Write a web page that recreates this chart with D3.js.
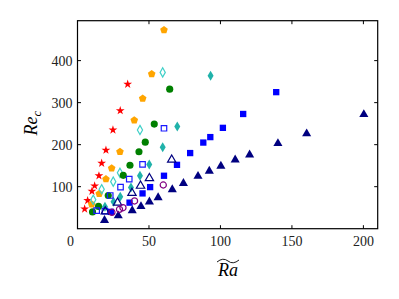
<!DOCTYPE html>
<html>
<head>
<meta charset="utf-8">
<script src="https://cdn.jsdelivr.net/npm/d3@7"></script>
<style>
  body { margin: 0; background: #fff; }
  text { font-family: "Liberation Serif", "DejaVu Serif", serif; }
</style>
</head>
<body>
<svg width="399" height="299"></svg>
<script>
// data: [Ra~, Re_c]
var redStars = [[35.1,344],[29.9,281],[24.8,235],[19.9,187],[16.9,156],[15.0,126],[12.0,102],[10.1,89],[7.1,67],[5.0,47]];
var orangePent = [[60.5,473],[51.9,368],[45.6,310],[39.7,258],[29.7,183],[23.9,144],[19.9,118],[15.2,83],[9.9,58]];
var cyanOpen = [[59.6,372],[43.7,235],[29.7,133],[25.0,112],[16.9,94],[11.0,69]];
var greenDots = [[64.5,332],[53.7,249],[47.4,206],[43.0,183],[36.7,151],[32.0,127],[21.5,79],[14.7,53],[10.5,40]];
var cyanFilled = [[93.1,364],[69.8,243],[59.6,194],[50.2,153],[43.7,126],[37.4,98],[29.9,76],[25.2,64],[19.2,52]];
var blueOpen = [[60.5,239],[45.5,153],[36.2,118],[30.1,99],[22.9,79],[13.4,43],[19.2,42]];
var blueFilled = [[139.0,325],[115.9,273],[101.7,240],[92.9,218],[88.0,205],[78.8,180],[69.6,152],[60.5,126],[50.8,99],[45.5,84],[36.4,62],[23.4,40]];
var navyOpen = [[65.9,164],[50.3,120],[44.1,102],[38.1,85],[28.0,62],[19.4,41]];
var navyFilled = [[200.3,272],[160.3,226],[140.2,203],[120.4,176],[110.3,164],[100.3,149],[92.2,137],[84.3,125],[74.1,108],[66.3,93],[56.4,74],[50.3,64],[44.4,53],[38.3,43],[28.5,31],[18.9,20]];
var purpleOpen = [[60.0,104],[39.9,66],[31.8,50],[29.4,46],[24.1,39]];

var xTicks = [0, 50, 100, 150, 200];
var yTicks = [100, 200, 300, 400];

var svg = d3.select("svg");
var m = { left: 77.5, right: 377.7, top: 20.7, bottom: 228.7 };

var x = d3.scaleLinear().domain([0, 210]).range([m.left, m.right]);
var y = d3.scaleLinear().domain([0, 495]).range([m.bottom, m.top]);

function pentagon(r) {
  var p = d3.path();
  for (var i = 0; i < 5; i++) {
    var a = -Math.PI / 2 + i * 2 * Math.PI / 5;
    if (i == 0) p.moveTo(r * Math.cos(a), r * Math.sin(a));
    else p.lineTo(r * Math.cos(a), r * Math.sin(a));
  }
  p.closePath();
  return p.toString();
}
function thinDiamond(w, h) {
  return "M0," + (-h) + "L" + w + ",0L0," + h + "L" + (-w) + ",0Z";
}

var series = [
  { data: redStars, path: d3.symbol(d3.symbolStar, 24)(), fill: "#ff0000", stroke: "none" },
  { data: orangePent, path: pentagon(4), fill: "#ffa500", stroke: "none" },
  { data: cyanOpen, path: thinDiamond(2.6, 4.6), fill: "none", stroke: "#40d0c8" },
  { data: greenDots, path: d3.symbol(d3.symbolCircle, 40)(), fill: "#008000", stroke: "none" },
  { data: cyanFilled, path: thinDiamond(3, 5), fill: "#20b2aa", stroke: "none" },
  { data: blueOpen, path: d3.symbol(d3.symbolSquare, 30)(), fill: "none", stroke: "#1a1aff" },
  { data: blueFilled, path: d3.symbol(d3.symbolSquare, 40)(), fill: "#0000ff", stroke: "none" },
  { data: navyOpen, path: d3.symbol(d3.symbolTriangle, 30)(), fill: "none", stroke: "#000080" },
  { data: navyFilled, path: d3.symbol(d3.symbolTriangle, 36)(), fill: "#000080", stroke: "none" },
  { data: purpleOpen, path: d3.symbol(d3.symbolCircle, 30)(), fill: "none", stroke: "#800080" }
];

var marks = svg.append("g");
series.forEach(function(s) {
  marks.append("g")
    .selectAll("path")
    .data(s.data)
    .enter().append("path")
    .attr("d", s.path)
    .attr("transform", function(d) { return "translate(" + x(d[0]) + "," + y(d[1]) + ")"; })
    .attr("fill", s.fill)
    .attr("stroke", s.stroke)
    .attr("stroke-width", 1.2);
});

// frame
svg.append("rect")
  .attr("x", m.left).attr("y", m.top)
  .attr("width", m.right - m.left).attr("height", m.bottom - m.top)
  .attr("fill", "none").attr("stroke", "#000").attr("stroke-width", 1.2);

// inward ticks on all four sides
var tk = 3.5;
var tg = svg.append("g").attr("stroke", "#000").attr("stroke-width", 1);
xTicks.forEach(function(t) {
  tg.append("line").attr("x1", x(t)).attr("x2", x(t)).attr("y1", m.bottom).attr("y2", m.bottom - tk);
  tg.append("line").attr("x1", x(t)).attr("x2", x(t)).attr("y1", m.top).attr("y2", m.top + tk);
});
yTicks.forEach(function(t) {
  tg.append("line").attr("x1", m.left).attr("x2", m.left + tk).attr("y1", y(t)).attr("y2", y(t));
  tg.append("line").attr("x1", m.right).attr("x2", m.right - tk).attr("y1", y(t)).attr("y2", y(t));
});

svg.append("g").selectAll("text")
  .data(xTicks).enter().append("text")
  .attr("x", function(d) { return x(d) - (d == 0 ? 7 : 0); })
  .attr("y", 245.5)
  .attr("text-anchor", "middle")
  .attr("font-size", 14)
  .attr("fill", "#222")
  .text(function(d) { return d; });

svg.append("g").selectAll("text")
  .data(yTicks).enter().append("text")
  .attr("x", m.left - 5)
  .attr("y", function(d) { return y(d) + 5; })
  .attr("text-anchor", "end")
  .attr("font-size", 14)
  .attr("fill", "#222")
  .text(function(d) { return d; });

// x label: Ra with a wide tilde
var xl = svg.append("g").attr("transform", "translate(228,276)");
xl.append("text")
  .attr("text-anchor", "middle")
  .attr("font-size", 18)
  .attr("font-style", "italic")
  .text("Ra");
xl.append("path")
  .attr("d", "M-11,-14 Q-5,-19 0,-15 Q5,-11 11,-16")
  .attr("fill", "none").attr("stroke", "#000").attr("stroke-width", 0.9);

// y label: Re_c
var yl = svg.append("text")
  .attr("transform", "translate(37,123) rotate(-90)")
  .attr("text-anchor", "middle")
  .attr("font-size", 18)
  .attr("font-style", "italic");
yl.append("tspan").text("Re");
yl.append("tspan").attr("font-size", 13).attr("dy", 4).text("c");
</script>
</body>
</html>
